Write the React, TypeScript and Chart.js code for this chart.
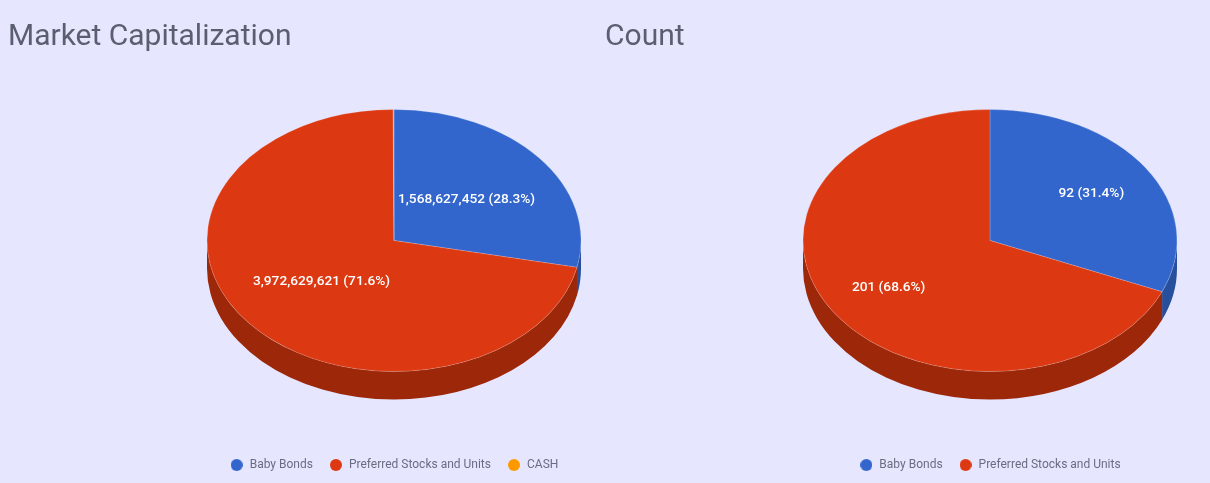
import React, { useEffect, useRef } from "react";
import { Chart, registerables } from "chart.js";

Chart.register(...registerables);

const marketLabels = ["Baby Bonds", "Preferred Stocks and Units", "CASH"];
const marketValues = [1568627452, 3972629621, 4000000];
const countLabels = ["Baby Bonds", "Preferred Stocks and Units"];
const countValues = [92, 201];
const sliceColors = ["#3366cc", "#dc3912", "#ff9900"];
const wallColors = ["#284f9c", "#9d2709", "#b36b00"];

const BG = "#e6e6ff";
const RADIUS = 187;
const SQUASH = 131 / 187;
const DEPTH = 28;
const MIN_LABEL_SHARE = 0.01;

function makeDot(color: string) {
  const c = document.createElement("canvas");
  c.width = 12;
  c.height = 12;
  const g = c.getContext("2d")!;
  g.fillStyle = color;
  g.beginPath();
  g.arc(6, 6, 6, 0, Math.PI * 2);
  g.fill();
  return c;
}

const pie3d = {
  id: "pie3d",
  beforeDatasetsDraw(chart: any) {
    const { ctx } = chart;
    const arcs = chart.getDatasetMeta(0).data;
    arcs.forEach((arc: any, i: number) => {
      const a = Math.max(arc.startAngle, 0);
      const b = Math.min(arc.endAngle, Math.PI);
      if (b <= a) return;
      ctx.save();
      ctx.fillStyle = wallColors[i];
      ctx.beginPath();
      ctx.ellipse(arc.x, arc.y, arc.outerRadius, arc.outerRadius * SQUASH, 0, a, b);
      ctx.ellipse(arc.x, arc.y + DEPTH, arc.outerRadius, arc.outerRadius * SQUASH, 0, b, a, true);
      ctx.closePath();
      ctx.fill();
      ctx.restore();
    });
  },
  beforeDatasetDraw(chart: any) {
    const { ctx } = chart;
    const arc = chart.getDatasetMeta(0).data[0];
    ctx.save();
    ctx.translate(arc.x, arc.y);
    ctx.scale(1, SQUASH);
    ctx.translate(-arc.x, -arc.y);
  },
  afterDatasetDraw(chart: any) {
    chart.ctx.restore();
  },
  afterDatasetsDraw(chart: any, _args: any, opts: any) {
    const { ctx } = chart;
    const values: number[] = chart.data.datasets[0].data;
    const total = values.reduce((s, v) => s + v, 0);
    chart.getDatasetMeta(0).data.forEach((arc: any, i: number) => {
      if (values[i] / total < MIN_LABEL_SHARE) return;
      const mid = (arc.startAngle + arc.endAngle) / 2;
      const r = arc.outerRadius * opts.labelRatio;
      const x = arc.x + Math.cos(mid) * r;
      const y = arc.y + Math.sin(mid) * r * SQUASH;
      ctx.save();
      ctx.font = "500 13.7px Roboto";
      ctx.fillStyle = "#ffffff";
      ctx.textAlign = "center";
      ctx.textBaseline = "middle";
      ctx.fillText(`${values[i].toLocaleString("en-US")} (${((values[i] / total) * 100).toFixed(1)}%)`, x, y);
      ctx.restore();
    });
  },
};

function PieCard(props: { title: string; labels: string[]; values: number[]; left: number; padLeft: number; labelRatio: number }) {
  const ref = useRef<HTMLCanvasElement>(null);
  useEffect(() => {
    const baseLabels = Chart.overrides.pie.plugins.legend.labels.generateLabels;
    const chart = new Chart(ref.current!, {
      type: "pie",
      data: {
        labels: props.labels,
        datasets: [
          {
            data: props.values,
            backgroundColor: sliceColors.slice(0, props.values.length),
            borderColor: "rgba(255,255,255,0.22)",
            borderWidth: 1,
          },
        ],
      },
      options: {
        animation: false,
        responsive: false,
        events: [],
        radius: RADIUS,
        layout: { padding: { left: props.padLeft, right: props.padLeft, top: 0, bottom: 2 } },
        plugins: {
          tooltip: { enabled: false },
          pie3d: { labelRatio: props.labelRatio },
          title: {
            display: true,
            text: props.title,
            align: "start",
            color: "#5b5e70",
            font: { family: "Roboto", size: 30, weight: "normal" },
            padding: { top: 19, bottom: -17 },
          },
          legend: {
            position: "bottom",
            labels: {
              usePointStyle: true,
              pointStyleWidth: 14,
              boxHeight: 8.5,
              padding: 16,
              color: "#6a6d80",
              font: { family: "Roboto", size: 12 },
              generateLabels: (c: any) =>
                baseLabels(c).map((item: any, i: number) => ({ ...item, pointStyle: makeDot(sliceColors[i]) })),
            },
          },
        },
      } as any,
      plugins: [pie3d as any],
    });
    return () => chart.destroy();
  }, []);
  return (
    <canvas
      ref={ref}
      width={788}
      height={483}
      style={{ position: "absolute", left: props.left, top: 0, width: 788, height: 483 }}
    />
  );
}

export default function App() {
  return (
    <div style={{ position: "fixed", left: 0, top: 0, width: 1210, height: 483, overflow: "hidden", background: BG }}>
      <PieCard title="Market Capitalization" labels={marketLabels} values={marketValues} left={0} padLeft={8} labelRatio={0.5} />
      <PieCard title="Count" labels={countLabels} values={countValues} left={596} padLeft={9} labelRatio={0.65} />
    </div>
  );
}
